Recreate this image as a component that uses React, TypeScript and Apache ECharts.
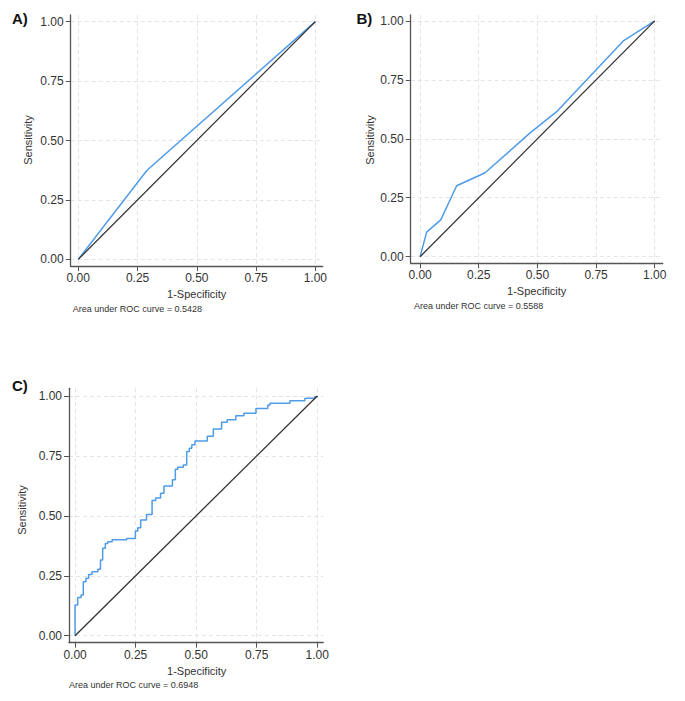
import React, { useEffect, useRef } from "react";
import * as echarts from "echarts";

// ---- data ----
const tickValues = [0, 0.25, 0.5, 0.75, 1];
const panelLabels = ["A)", "B)", "C)"];
const aucLabels = [
  "Area under ROC curve = 0.5428",
  "Area under ROC curve = 0.5588",
  "Area under ROC curve = 0.6948",
];
const xTitle = "1-Specificity";
const yTitle = "Sensitivity";
const refX = [0, 1];
const refY = [0, 1];

const rocAFpr = [0, 0.29, 1];
const rocATpr = [0, 0.375, 1];

const rocBFpr = [0, 0.028, 0.088, 0.125, 0.156, 0.277, 0.469, 0.582, 0.866, 1];
const rocBTpr = [0, 0.104, 0.156, 0.235, 0.301, 0.356, 0.525, 0.615, 0.915, 1];

// panel C: step curve, (fpr at which a rise happens, tpr at top of the rise)
const rocCFpr = [
  0, 0, 0.011, 0.025, 0.034, 0.045, 0.056, 0.07, 0.094, 0.105, 0.114, 0.125, 0.135,
  0.153, 0.213, 0.249, 0.259, 0.271, 0.295, 0.318, 0.333, 0.353, 0.367, 0.402, 0.414,
  0.424, 0.447, 0.461, 0.472, 0.482, 0.495, 0.546, 0.571, 0.605, 0.628, 0.664, 0.697,
  0.747, 0.796, 0.805, 0.887, 0.949, 0.99, 1,
];
const rocCTpr = [
  0, 0.128, 0.16, 0.17, 0.225, 0.24, 0.255, 0.267, 0.277, 0.316, 0.365, 0.385, 0.392,
  0.4, 0.406, 0.437, 0.45, 0.483, 0.506, 0.564, 0.575, 0.594, 0.625, 0.651, 0.694,
  0.703, 0.712, 0.768, 0.782, 0.797, 0.812, 0.832, 0.862, 0.89, 0.901, 0.917, 0.928,
  0.948, 0.962, 0.97, 0.98, 0.99, 0.997, 1,
];

function pairs(xs: number[], ys: number[]) {
  return xs.map((x, i) => [x, ys[i]]);
}
function stepPairs(xs: number[], ys: number[]) {
  const out: number[][] = [[xs[0], ys[0]]];
  for (let i = 1; i < xs.length; i++) {
    out.push([xs[i], ys[i - 1]]);
    out.push([xs[i], ys[i]]);
  }
  return out;
}

// panel layout (pixels) and axis extents
const panels = [
  { left: 70.7, top: 15, width: 252, height: 251, xMin: -0.032, xMax: 1.031, yMin: -0.028, yMax: 1.028,
    label: [12, 18], yt: [28, 140], xt: [196.7, 294], auc: [72.7, 309] },
  { left: 410.7, top: 15, width: 252, height: 248.3, xMin: -0.04, xMax: 1.034, yMin: -0.028, yMax: 1.025,
    label: [356.5, 18], yt: [369.5, 140], xt: [536.7, 291], auc: [414, 305.7] },
  { left: 69, top: 388.3, width: 254.3, height: 254.4, xMin: -0.025, xMax: 1.025, yMin: -0.029, yMax: 1.032,
    label: [12, 385], yt: [21.7, 510], xt: [196.7, 671], auc: [69, 685] },
];

const FONT = "'Liberation Sans', Arial, Helvetica, sans-serif";
const AXIS_COLOR = "#555";
const TEXT_COLOR = "#333";
const ROC_COLOR = "#4f9be8";

export default function App() {
  const ref = useRef<HTMLDivElement>(null);
  useEffect(() => {
    if (!ref.current) return;
    const chart = echarts.init(ref.current, undefined, { renderer: "svg" });
    const axisCommon = (min: number, max: number, margin: number) => ({
      type: "value",
      min,
      max,
      axisLine: { show: true, onZero: false, lineStyle: { color: AXIS_COLOR, width: 1.3 } },
      axisTick: { show: true, inside: false, length: 5, customValues: tickValues, lineStyle: { color: AXIS_COLOR, width: 1 } },
      axisLabel: {
        customValues: tickValues,
        formatter: (v: number) => v.toFixed(2),
        color: TEXT_COLOR,
        fontSize: 12,
        fontFamily: FONT,
        margin,
      },
      splitLine: { show: true, lineStyle: { color: "#e4e4e4", type: [4, 3], width: 1 } },
    });
    const rocData = [pairs(rocAFpr, rocATpr), pairs(rocBFpr, rocBTpr), stepPairs(rocCFpr, rocCTpr)];
    const series: any[] = [];
    panels.forEach((p, i) => {
      series.push({
        type: "line",
        xAxisIndex: i,
        yAxisIndex: i,
        data: rocData[i],
        showSymbol: false,
        symbol: "none",
        lineStyle: { color: ROC_COLOR, width: 1.5 },
        z: 2,
      });
      series.push({
        type: "line",
        xAxisIndex: i,
        yAxisIndex: i,
        data: pairs(refX, refY),
        showSymbol: false,
        symbol: "none",
        lineStyle: { color: "#333", width: 1.3 },
        z: 3,
      });
    });
    const graphics: any[] = [];
    panels.forEach((p, i) => {
      graphics.push({
        type: "text",
        x: p.label[0],
        y: p.label[1],
        style: { text: panelLabels[i], fill: "#111", font: `bold 15px ${FONT}`, align: "left", verticalAlign: "middle", textAlign: "left", textVerticalAlign: "middle" },
      });
      graphics.push({
        type: "text",
        x: p.yt[0],
        y: p.yt[1],
        rotation: Math.PI / 2,
        style: { text: yTitle, fill: TEXT_COLOR, font: `11px ${FONT}`, align: "center", verticalAlign: "middle", textAlign: "center", textVerticalAlign: "middle" },
      });
      graphics.push({
        type: "text",
        x: p.xt[0],
        y: p.xt[1],
        style: { text: xTitle, fill: TEXT_COLOR, font: `11px ${FONT}`, align: "center", verticalAlign: "middle", textAlign: "center", textVerticalAlign: "middle" },
      });
      graphics.push({
        type: "text",
        x: p.auc[0],
        y: p.auc[1],
        style: { text: aucLabels[i], fill: TEXT_COLOR, font: `9px ${FONT}`, align: "left", verticalAlign: "middle", textAlign: "left", textVerticalAlign: "middle" },
      });
    });
    chart.setOption({
      animation: false,
      backgroundColor: "#ffffff",
      textStyle: { fontFamily: FONT },
      grid: panels.map((p) => ({ left: p.left, top: p.top, width: p.width, height: p.height, containLabel: false })),
      xAxis: panels.map((p, i) => ({ ...axisCommon(p.xMin, p.xMax, 6), gridIndex: i, position: "bottom" })),
      yAxis: panels.map((p, i) => ({ ...axisCommon(p.yMin, p.yMax, 7), gridIndex: i, position: "left" })),
      series,
      graphic: graphics,
    });
    return () => chart.dispose();
  }, []);
  return (
    <div
      ref={ref}
      style={{ position: "fixed", left: 0, top: 0, width: 685, height: 701, background: "#fff" }}
    />
  );
}
